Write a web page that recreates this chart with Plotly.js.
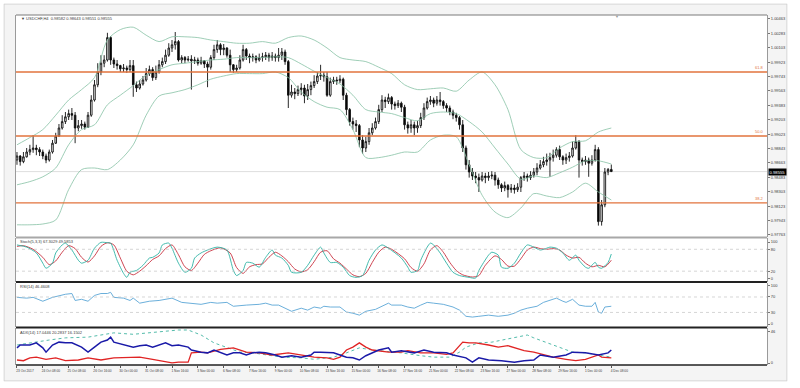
<!DOCTYPE html>
<html><head><meta charset="utf-8">
<script src="https://cdn.plot.ly/plotly-3.0.1.min.js"></script>
<style>html,body{margin:0;padding:0;background:#fff;}#chart{width:800px;height:388px;}</style>
</head><body><div id="chart"></div>
<script>
// ---- time axis ----
const dateLabels = ["23 Oct 2017","24 Oct 08:00","25 Oct 08:00","26 Oct 16:00","30 Oct 00:00","31 Oct 08:00","1 Nov 16:00","3 Nov 00:00","6 Nov 08:00","7 Nov 16:00","9 Nov 00:00","10 Nov 08:00","13 Nov 16:00","15 Nov 00:00","16 Nov 08:00","17 Nov 16:00","21 Nov 00:00","22 Nov 08:00","23 Nov 16:00","27 Nov 00:00","28 Nov 08:00","29 Nov 16:00","1 Dec 00:00","4 Dec 08:00"];
const labelBars = [0,8,16,24,32,40,48,56,64,72,80,88,96,104,112,120,128,136,144,152,160,168,176,184];

// ---- USDCHF H4 candles ----
const openP = [
0.9870,0.9875,0.9868,0.9874,0.9880,0.9883,0.9885,0.9883,0.9880,0.9875,
0.9870,0.9880,0.9891,0.9900,0.9910,0.9918,0.9924,0.9928,0.9926,0.9910,
0.9913,0.9915,0.9911,0.9926,0.9945,0.9964,0.9980,0.9991,0.9995,1.0023,
0.9995,0.9990,0.9988,0.9984,0.9985,0.9983,0.9988,0.9964,0.9960,0.9965,
0.9970,0.9978,0.9983,0.9973,0.9980,0.9989,0.9993,1.0001,1.0010,1.0014,
1.0018,0.9995,0.9998,0.9995,0.9996,0.9994,0.9995,0.9991,0.9994,0.9990,
0.9986,0.9998,1.0008,1.0014,1.0008,1.0010,1.0001,0.9989,0.9983,0.9985,
0.9995,1.0008,1.0000,0.9998,0.9999,0.9995,0.9998,0.9999,1.0001,0.9998,
1.0000,0.9998,1.0001,1.0005,0.9993,0.9951,0.9955,0.9953,0.9958,0.9960,
0.9950,0.9958,0.9963,0.9968,0.9975,0.9976,0.9974,0.9951,0.9968,0.9970,
0.9969,0.9971,0.9951,0.9933,0.9918,0.9915,0.9913,0.9895,0.9885,0.9893,
0.9904,0.9910,0.9918,0.9933,0.9945,0.9943,0.9948,0.9940,0.9938,0.9941,
0.9936,0.9914,0.9910,0.9914,0.9910,0.9913,0.9923,0.9935,0.9943,0.9945,
0.9941,0.9945,0.9943,0.9938,0.9935,0.9930,0.9926,0.9923,0.9914,0.9885,
0.9864,0.9855,0.9850,0.9848,0.9845,0.9850,0.9848,0.9850,0.9851,0.9845,
0.9839,0.9835,0.9838,0.9833,0.9835,0.9833,0.9836,0.9848,0.9850,0.9848,
0.9851,0.9855,0.9860,0.9864,0.9868,0.9870,0.9873,0.9876,0.9883,0.9874,
0.9870,0.9873,0.9875,0.9885,0.9893,0.9870,0.9868,0.9870,0.9866,0.9870,
0.9883,0.9793,0.9814,0.9855,0.98582];
const highP = [
0.9880,0.9876,0.9880,0.9885,0.9889,0.9901,0.9889,0.9886,0.9883,0.9878,
0.9883,0.9895,0.9904,0.9915,0.9926,0.9930,0.9933,0.9935,0.9930,0.9920,
0.9920,0.9918,0.9930,0.9951,0.9970,0.9991,1.0001,1.0001,1.0029,1.0025,
0.9998,0.9995,0.9989,0.9990,0.9988,0.9995,0.9995,0.9968,0.9970,0.9975,
0.9985,0.9988,0.9986,0.9988,0.9995,0.9998,1.0008,1.0016,1.0020,1.0030,
1.0020,1.0001,1.0000,1.0000,1.0001,0.9999,0.9998,0.9999,0.9995,0.9993,
1.0001,1.0014,1.0020,1.0016,1.0015,1.0011,1.0008,0.9990,0.9989,1.0001,
1.0014,1.0010,1.0003,1.0003,1.0001,1.0003,1.0004,1.0005,1.0004,1.0005,
1.0003,1.0010,1.0010,1.0008,0.9995,0.9964,0.9960,0.9963,0.9966,0.9964,
0.9965,0.9968,0.9976,0.9980,0.9989,0.9980,0.9980,0.9973,0.9974,0.9974,
0.9976,0.9973,0.9954,0.9935,0.9923,0.9920,0.9915,0.9901,0.9899,0.9910,
0.9916,0.9923,0.9939,0.9951,0.9949,0.9953,0.9950,0.9943,0.9945,0.9943,
0.9939,0.9918,0.9920,0.9918,0.9919,0.9929,0.9941,0.9948,0.9950,0.9948,
0.9950,0.9955,0.9945,0.9941,0.9938,0.9933,0.9929,0.9925,0.9920,0.9888,
0.9870,0.9860,0.9855,0.9853,0.9855,0.9854,0.9855,0.9856,0.9855,0.9848,
0.9841,0.9843,0.9840,0.9840,0.9839,0.9841,0.9850,0.9855,0.9853,0.9856,
0.9860,0.9866,0.9870,0.9874,0.9878,0.9879,0.9883,0.9886,0.9888,0.9876,
0.9878,0.9880,0.9893,0.9901,0.9895,0.9873,0.9875,0.9873,0.9876,0.9889,
0.9886,0.9820,0.9860,0.9860,0.98643];
const lowP = [
0.9864,0.9863,0.9866,0.9873,0.9876,0.9879,0.9876,0.9875,0.9871,0.9866,
0.9868,0.9878,0.9890,0.9899,0.9908,0.9915,0.9920,0.9920,0.9891,0.9906,
0.9909,0.9908,0.9910,0.9924,0.9943,0.9961,0.9976,0.9986,0.9993,0.9989,
0.9985,0.9983,0.9980,0.9980,0.9979,0.9980,0.9949,0.9955,0.9958,0.9963,
0.9968,0.9975,0.9969,0.9970,0.9978,0.9986,0.9990,0.9999,1.0005,1.0008,
0.9993,0.9991,0.9991,0.9993,0.9958,0.9990,0.9988,0.9989,0.9985,0.9961,
0.9983,0.9995,1.0004,1.0001,1.0001,0.9998,0.9980,0.9979,0.9980,0.9983,
0.9993,0.9995,0.9991,0.9993,0.9991,0.9993,0.9993,0.9995,0.9993,0.9994,
0.9993,0.9993,0.9995,0.9989,0.9935,0.9948,0.9946,0.9950,0.9951,0.9941,
0.9945,0.9951,0.9960,0.9965,0.9970,0.9968,0.9949,0.9949,0.9965,0.9964,
0.9966,0.9945,0.9926,0.9913,0.9908,0.9905,0.9886,0.9878,0.9880,0.9889,
0.9901,0.9908,0.9915,0.9930,0.9935,0.9940,0.9933,0.9933,0.9935,0.9930,
0.9908,0.9903,0.9904,0.9901,0.9904,0.9910,0.9920,0.9933,0.9939,0.9936,
0.9938,0.9938,0.9934,0.9930,0.9926,0.9921,0.9918,0.9908,0.9880,0.9858,
0.9848,0.9845,0.9841,0.9830,0.9843,0.9841,0.9844,0.9846,0.9838,0.9834,
0.9830,0.9831,0.9823,0.9829,0.9828,0.9830,0.9830,0.9844,0.9843,0.9845,
0.9848,0.9851,0.9858,0.9861,0.9863,0.9849,0.9868,0.9873,0.9870,0.9864,
0.9865,0.9868,0.9873,0.9883,0.9848,0.9863,0.9864,0.9849,0.9863,0.9868,
0.9788,0.9788,0.9811,0.9851,0.98551];
const closeP = [
0.9875,0.9868,0.9874,0.9880,0.9883,0.9885,0.9883,0.9880,0.9875,0.9870,
0.9880,0.9891,0.9900,0.9910,0.9918,0.9924,0.9928,0.9926,0.9910,0.9913,
0.9915,0.9911,0.9926,0.9945,0.9964,0.9980,0.9991,0.9995,1.0023,0.9995,
0.9990,0.9988,0.9984,0.9985,0.9983,0.9988,0.9964,0.9960,0.9965,0.9970,
0.9978,0.9983,0.9973,0.9980,0.9989,0.9993,1.0001,1.0010,1.0014,1.0018,
0.9995,0.9998,0.9995,0.9996,0.9994,0.9995,0.9991,0.9994,0.9990,0.9986,
0.9998,1.0008,1.0014,1.0008,1.0010,1.0001,0.9989,0.9983,0.9985,0.9995,
1.0008,1.0000,0.9998,0.9999,0.9995,0.9998,0.9999,1.0001,0.9998,1.0000,
0.9998,1.0001,1.0005,0.9993,0.9951,0.9955,0.9953,0.9958,0.9960,0.9950,
0.9958,0.9963,0.9968,0.9975,0.9976,0.9974,0.9951,0.9968,0.9970,0.9969,
0.9971,0.9951,0.9933,0.9918,0.9915,0.9913,0.9895,0.9885,0.9893,0.9904,
0.9910,0.9918,0.9933,0.9945,0.9943,0.9948,0.9940,0.9938,0.9941,0.9936,
0.9914,0.9910,0.9914,0.9910,0.9913,0.9923,0.9935,0.9943,0.9945,0.9941,
0.9945,0.9943,0.9938,0.9935,0.9930,0.9926,0.9923,0.9914,0.9885,0.9864,
0.9855,0.9850,0.9848,0.9845,0.9850,0.9848,0.9850,0.9851,0.9845,0.9839,
0.9835,0.9838,0.9833,0.9835,0.9833,0.9836,0.9848,0.9850,0.9848,0.9851,
0.9855,0.9860,0.9864,0.9868,0.9870,0.9873,0.9876,0.9883,0.9874,0.9870,
0.9873,0.9875,0.9885,0.9893,0.9870,0.9868,0.9870,0.9866,0.9870,0.9883,
0.9793,0.9814,0.9855,0.98582,0.98555];

// ---- Bollinger bands (read every 4 bars) ----
const bbBars = [0,4,8,12,16,20,24,28,32,36,40,44,48,52,56,60,64,68,72,76,80,84,88,92,96,100,104,108,112,116,120,124,128,132,136,140,144,148,152,156,160,164,168,172,176,180,184];
const bbUpper = [0.9889,0.9898,0.9908,0.9926,0.9945,0.9958,0.9973,1.0020,1.0033,1.0036,1.0026,1.0018,1.0024,1.0024,1.0023,1.0020,1.0018,1.0016,1.0016,1.0018,1.0016,1.0023,1.0025,1.0020,1.0010,0.9998,0.9995,0.9993,0.9986,0.9978,0.9964,0.9958,0.9959,0.9960,0.9956,0.9970,0.9980,0.9964,0.9933,0.9883,0.9873,0.9873,0.9885,0.9893,0.9894,0.9905,0.9910];
const bbMiddle = [0.9839,0.9843,0.9849,0.9860,0.9889,0.9908,0.9914,0.9939,0.9951,0.9963,0.9976,0.9983,0.9989,0.9991,0.9993,0.9995,0.9996,0.9998,0.9998,0.9998,0.9999,0.9998,0.9990,0.9981,0.9973,0.9965,0.9951,0.9933,0.9930,0.9928,0.9923,0.9919,0.9928,0.9930,0.9928,0.9918,0.9905,0.9885,0.9865,0.9846,0.9850,0.9848,0.9854,0.9861,0.9869,0.9869,0.9865];
const bbLower = [0.9789,0.9789,0.9790,0.9795,0.9833,0.9858,0.9860,0.9858,0.9870,0.9889,0.9926,0.9950,0.9954,0.9958,0.9964,0.9971,0.9975,0.9978,0.9978,0.9978,0.9980,0.9973,0.9955,0.9943,0.9936,0.9933,0.9908,0.9873,0.9873,0.9876,0.9880,0.9880,0.9895,0.9901,0.9899,0.9864,0.9826,0.9805,0.9798,0.9810,0.9828,0.9825,0.9823,0.9830,0.9841,0.9830,0.9820];

// ---- Fibonacci levels ----
const fibLevels = [0.9980, 0.9900, 0.98163];
const fibNames = ["61.8", "50.0", "38.2"];
const lastPrice = 0.98555;

// ---- price axis ticks ----
const priceTicks = [1.00463,1.00283,1.00103,0.99923,0.99743,0.99563,0.99383,0.99203,0.99023,0.98843,0.98663,0.98483,0.98303,0.98123,0.97943,0.97763];

// ---- Stochastic(5,3,3) ----
const stochMainBars = [0,3,6,8,9,11,12,14,15,17,19,20,22,24,26,28,29,31,33,34,35,37,39,41,42,44,45,47,48,50,52,54,55,57,59,62,65,67,68,70,71,73,75,77,79,80,82,84,85,88,90,92,94,95,97,99,101,103,105,107,109,111,113,115,119,121,122,124,125,127,128,129,131,133,135,137,140,142,143,146,147,149,150,152,154,156,158,160,162,164,165,167,169,171,173,174,176,177,179,180,181,183,184];
const stochMain = [92,86,70,42,28,42,70,92,97,78,50,42,50,83,99,98,97,50,14,3,17,22,36,56,58,70,92,97,83,42,17,28,56,70,78,86,78,22,8,22,44,42,31,58,78,64,56,36,17,17,36,64,86,70,44,44,31,8,3,8,50,78,92,83,56,31,17,22,50,86,97,92,70,42,17,8,3,1,22,64,72,64,31,28,42,70,92,86,78,83,86,83,70,50,64,50,31,28,44,31,28,44,67];
const stochSigBars = [0,2,5,8,10,12,14,16,18,20,22,24,26,28,30,32,34,36,38,40,42,44,46,48,50,52,54,56,58,60,63,66,68,70,72,74,76,78,80,82,84,86,88,90,92,94,96,98,100,102,104,106,108,110,112,114,116,120,122,124,126,128,130,132,134,136,138,141,143,145,148,150,152,154,156,158,160,162,164,166,168,170,172,174,176,178,180,182,184];
const stochSig = [88,90,80,58,38,48,72,90,82,58,45,62,88,98,92,56,20,10,20,35,52,62,82,92,65,32,22,42,66,76,84,70,30,14,32,38,40,58,72,62,46,26,18,24,46,72,76,54,42,26,10,5,14,44,72,86,80,54,30,20,40,78,90,72,44,22,10,4,8,36,62,52,34,34,54,78,86,82,80,82,78,64,56,58,42,32,36,32,50];

// ---- RSI(14) ----
const rsiBars = [0,3,5,8,11,15,17,18,20,22,24,26,28,29,30,33,35,36,38,41,44,48,51,54,57,60,62,65,67,71,75,77,79,81,84,85,88,90,92,94,95,97,100,102,104,106,107,108,111,115,116,119,121,123,125,127,129,132,135,137,139,141,143,146,149,152,154,156,158,161,163,165,167,169,170,172,174,176,178,179,180,181,182,184];
const rsiVals = [69,67,69,59,69,77,79,61,64,59,74,79,79,82,69,67,61,67,54,59,61,67,56,54,51,56,54,56,46,49,51,54,49,49,36,33,41,36,44,41,46,44,44,31,28,23,28,33,38,54,49,49,44,41,49,56,54,51,44,36,20,18,20,23,20,23,28,36,41,46,56,61,67,59,56,64,49,46,46,56,31,28,44,46];

// ---- ADX(14) ----
const adxBars = [0,5,10,15,22,26,30,36,41,45,50,53,57,61,65,69,73,77,82,88,92,96,98,102,106,110,119,125,129,134,137,139,143,147,150,154,158,160,164,168,172,176,180,184];
const adxVals = [28,32,35,38,39,42,45,43,45,46,49,49,42,31,24,18,17,14,11,10,8,10,11,17,24,21,17,13,11,11,18,25,31,32,35,39,42,38,31,24,18,17,14,11];
const pdiBars = [0,1,4,6,8,9,11,13,15,17,20,22,24,26,28,29,30,33,36,38,40,42,44,46,48,50,53,54,57,59,61,63,65,67,69,71,73,75,77,80,82,85,88,91,92,94,96,98,100,102,104,106,108,110,112,115,116,119,123,126,129,133,135,139,141,143,146,150,154,157,160,162,166,170,172,176,180,183,184];
const pdiVals = [24,28,28,31,24,18,28,32,31,31,25,18,25,32,35,39,32,28,25,27,28,25,28,31,27,28,25,21,18,17,21,17,14,17,17,14,17,18,17,14,11,13,11,14,18,18,17,17,14,11,10,7,13,17,21,24,18,20,17,21,18,17,14,10,4,10,7,6,4,6,7,14,11,14,18,17,14,17,21];
const mdiBars = [0,2,4,6,9,12,15,19,22,26,30,34,38,42,46,48,50,53,54,57,59,63,67,71,75,79,84,88,92,96,98,100,102,104,106,108,110,115,119,121,125,129,133,135,138,140,142,146,149,152,154,157,160,163,166,170,173,176,180,181,184];
const mdiVals = [7,6,10,11,8,10,6,7,10,7,10,11,11,8,4,3,4,4,17,18,17,22,24,18,17,14,17,14,11,10,8,11,21,25,31,25,21,18,18,20,17,17,15,17,32,31,31,28,25,27,24,20,18,14,11,8,6,8,14,11,10];

// ---- geometry helpers (pixel -> paper) ----
const PT = 15, PB = 365, PL = 16, PR = 767;
const py = p => (PB - p) / (PB - PT);
const px = p => (p - PL) / (PR - PL);
const bars = closeP.map((_, i) => i);

const FONT = "Liberation Sans, Arial, sans-serif";
const txt = "#3a3a3a";
const bbColor = "#86c2a5";

const traces = [
  {type:"scatter", mode:"lines", x:bbBars, y:bbUpper, yaxis:"y", line:{color:bbColor, width:0.8, shape:"spline", smoothing:0.8}, hoverinfo:"skip", showlegend:false},
  {type:"scatter", mode:"lines", x:bbBars, y:bbMiddle, yaxis:"y", line:{color:bbColor, width:0.8, shape:"spline", smoothing:0.8}, hoverinfo:"skip", showlegend:false},
  {type:"scatter", mode:"lines", x:bbBars, y:bbLower, yaxis:"y", line:{color:bbColor, width:0.8, shape:"spline", smoothing:0.8}, hoverinfo:"skip", showlegend:false},
  {type:"candlestick", x:bars, open:openP, high:highP, low:lowP, close:closeP, xaxis:"x", yaxis:"y",
   increasing:{line:{color:"#111", width:0.9}, fillcolor:"#ffffff"},
   decreasing:{line:{color:"#111", width:0.9}, fillcolor:"#000000"},
   whiskerwidth:0, hoverinfo:"skip", showlegend:false},
  {type:"scatter", mode:"lines", x:stochSigBars, y:stochSig, yaxis:"y2", line:{color:"#c8303e", width:0.9, shape:"spline", smoothing:0.7}, hoverinfo:"skip", showlegend:false},
  {type:"scatter", mode:"lines", x:stochMainBars, y:stochMain, yaxis:"y2", line:{color:"#2fb3a5", width:0.9, shape:"spline", smoothing:0.7}, hoverinfo:"skip", showlegend:false},
  {type:"scatter", mode:"lines", x:rsiBars, y:rsiVals, yaxis:"y3", line:{color:"#5aa6d6", width:0.9}, hoverinfo:"skip", showlegend:false},
  {type:"scatter", mode:"lines", x:adxBars, y:adxVals, yaxis:"y4", line:{color:"#3fb3a0", width:0.9, dash:"dot"}, hoverinfo:"skip", showlegend:false},
  {type:"scatter", mode:"lines", x:mdiBars, y:mdiVals, yaxis:"y4", line:{color:"#e02424", width:1.3}, hoverinfo:"skip", showlegend:false},
  {type:"scatter", mode:"lines", x:pdiBars, y:pdiVals, yaxis:"y4", line:{color:"#1a1aa8", width:1.5}, hoverinfo:"skip", showlegend:false}
];

const yBase = {side:"right", anchor:"x", showgrid:false, zeroline:false, showline:true, mirror:true,
  linecolor:"#9a9a9a", linewidth:1, ticks:"outside", ticklen:2, tickcolor:"#777",
  tickfont:{family:FONT, size:4, color:txt}, fixedrange:true};

const shapes = [];
fibLevels.forEach(v => shapes.push({type:"line", xref:"paper", yref:"y", x0:0, x1:1, y0:v, y1:v, line:{color:"#e2733d", width:1.3}}));
shapes.push({type:"line", xref:"paper", yref:"y", x0:0, x1:1, y0:lastPrice, y1:lastPrice, line:{color:"#d4d4d4", width:0.8}, layer:"below"});
[20,80].forEach(v => shapes.push({type:"line", xref:"paper", yref:"y2", x0:0, x1:1, y0:v, y1:v, line:{color:"#c4c4c4", width:0.7, dash:"dot"}}));
[30,70].forEach(v => shapes.push({type:"line", xref:"paper", yref:"y3", x0:0, x1:1, y0:v, y1:v, line:{color:"#c4c4c4", width:0.7, dash:"dot"}}));
shapes.push({type:"line", xref:"paper", yref:"paper", x0:0, x1:1, y0:py(15), y1:py(15), line:{color:"#7a7a7a", width:1}});
shapes.push({type:"line", xref:"paper", yref:"paper", x0:0, x1:1, y0:py(237.5), y1:py(237.5), line:{color:"#a8a8a8", width:2}});
shapes.push({type:"line", xref:"paper", yref:"paper", x0:0, x1:1, y0:py(282), y1:py(282), line:{color:"#222", width:2}});
shapes.push({type:"line", xref:"paper", yref:"paper", x0:0, x1:1, y0:py(327.5), y1:py(327.5), line:{color:"#222", width:2}});
shapes.push({type:"line", xref:"paper", yref:"paper", x0:0, x1:1, y0:py(365), y1:py(365), line:{color:"#222", width:1.5}});
shapes.push({type:"rect", xref:"paper", yref:"paper", x0:px(4), x1:px(787), y0:py(381), y1:py(4), line:{color:"#cfcfcf", width:1}, fillcolor:"rgba(0,0,0,0)"});
shapes.push({type:"rect", xref:"paper", yref:"paper", x0:px(787.5), x1:px(801), y0:py(389), y1:py(-1), line:{width:0}, fillcolor:"#fff"});
shapes.push({type:"rect", xref:"paper", yref:"paper", x0:px(-1), x1:px(801), y0:py(389), y1:py(381.5), line:{width:0}, fillcolor:"#fff"});
shapes.push({type:"rect", xref:"paper", yref:"paper", x0:px(-1), x1:px(3.5), y0:py(389), y1:py(-1), line:{width:0}, fillcolor:"#fff"});
shapes.push({type:"rect", xref:"paper", yref:"paper", x0:px(-1), x1:px(801), y0:py(3.5), y1:py(-1), line:{width:0}, fillcolor:"#fff"});

const ann = [];
const note = (text, x, y, extra) => ann.push(Object.assign({text, x, y, xref:"paper", yref:"paper", showarrow:false, xanchor:"left", yanchor:"middle", font:{family:FONT, size:4, color:txt}}, extra||{}));
note("\u25BC USDCHF,H4  0.98582 0.98643 0.98551 0.98555", px(19), py(18.5));
note("Stoch(5,3,3) 67.3029 49.5853", px(18), py(241.5));
note("RSI(14) 46.4608", px(18), py(286.5));
note("ADX(14) 17.0446 20.2837 16.1502", px(18), py(332));
note("\u25BC", px(613), py(16.5), {font:{family:FONT, size:4, color:"#999"}});
fibLevels.forEach((v, i) => ann.push({text:fibNames[i], x:px(766), y:v, xref:"paper", yref:"y", showarrow:false, xanchor:"right", yanchor:"bottom", font:{family:FONT, size:4, color:"#e2733d"}}));
ann.push({text:"0.98555", x:px(767.5), y:lastPrice, xref:"paper", yref:"y", showarrow:false, xanchor:"left", yanchor:"middle", bgcolor:"#000", borderpad:0.5, font:{family:FONT, size:4.2, color:"#fff"}});

const layout = {
  width:800, height:388,
  margin:{l:PL, r:800-PR, t:PT, b:388-PB, pad:0},
  paper_bgcolor:"#f4f4f4", plot_bgcolor:"#ffffff",
  showlegend:false, hovermode:false, dragmode:false,
  xaxis:{domain:[0,1], anchor:"y4", range:[-0.3, 232.2], showgrid:false, zeroline:false,
    showline:false, ticks:"outside", ticklen:2, tickcolor:"#555",
    tickvals:labelBars, ticktext:dateLabels, tickangle:0, ticklabelshift:8, ticklabelstandoff:0,
    tickfont:{family:FONT, size:3.2, color:txt}, rangeslider:{visible:false}, fixedrange:true},
  yaxis: Object.assign({}, yBase, {domain:[py(237), 1], range:[0.977375, 1.005125],
    tickvals:priceTicks, ticktext:priceTicks.map(v => v.toFixed(5))}),
  yaxis2: Object.assign({}, yBase, {domain:[py(281.5), py(238)], range:[-8.3, 111],
    tickvals:[0,20,80,100], ticktext:["0","20","80","100"]}),
  yaxis3: Object.assign({}, yBase, {domain:[py(327), py(282.5)], range:[-7.7, 107.5],
    tickvals:[0,30,70,100], ticktext:["0","30","70","100"]}),
  yaxis4: Object.assign({}, yBase, {domain:[0, py(328)], range:[0, 51.8],
    tickvals:[2.8, 46.4], ticktext:["0","46"]}),
  shapes, annotations:ann
};

Plotly.newPlot("chart", traces, layout, {displayModeBar:false, staticPlot:true});
</script>
</body></html>
